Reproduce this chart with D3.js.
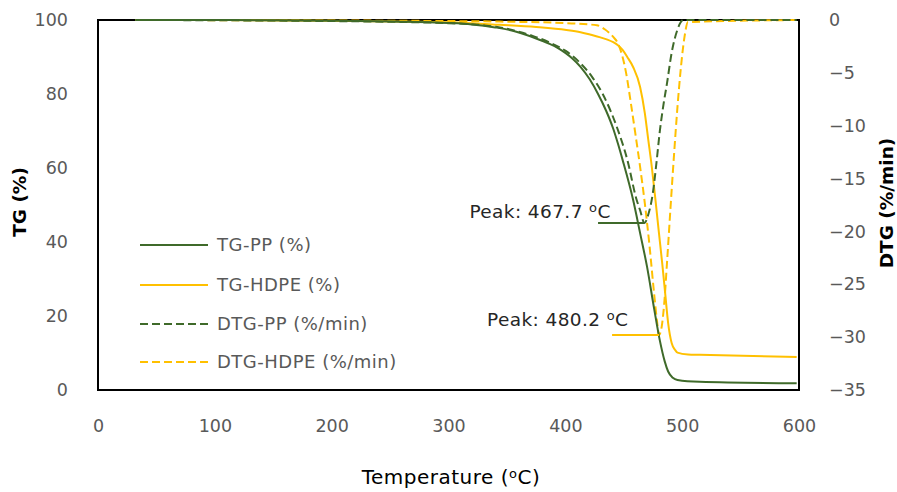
<!DOCTYPE html>
<html>
<head>
<meta charset="utf-8">
<script src="https://cdn.jsdelivr.net/npm/d3@7/dist/d3.min.js"></script>
<style>
  html, body { margin: 0; padding: 0; background: #fff; }
  svg { display: block; font-family: "DejaVu Sans", sans-serif; }
</style>
</head>
<body>
<svg id="chart" width="897" height="492"></svg>
<script>
// Thermogravimetric curves (TG, left axis) and their derivatives (DTG, right axis)
const tgPPTemp   = [32, 100, 200, 250, 300, 320, 340, 355, 370, 380, 387, 393, 400, 406, 413, 421, 428, 435, 441, 445, 449, 458, 464, 470, 476, 481, 485, 488, 492, 496, 515, 598];
const tgPP       = [100, 100, 99.8, 99.6, 99.2, 98.8, 98, 97.1, 95.6, 94.4, 93.5, 92.55, 91.1, 89.6, 87.35, 83.9, 80.0, 75.4, 70.6, 66.6, 62.2, 51.4, 42.4, 33.2, 22.0, 13.2, 7.8, 5.0, 3.3, 2.7, 2.2, 1.8];

const tgHDPETemp = [32, 100, 200, 300, 344, 375, 401, 413, 422, 430, 436, 441, 445, 449, 453, 458, 464, 468, 471, 474, 477, 480, 483, 485.5, 488, 491, 494, 496, 505, 515, 598];
const tgHDPE     = [100, 100, 99.8, 99.4, 98.7, 98.1, 97.3, 96.7, 96.0, 95.3, 94.7, 94.0, 93.2, 91.9, 90.0, 87.3, 81.9, 74.9, 67.6, 60.3, 51.8, 42.8, 34.0, 26.0, 18.1, 12.7, 10.8, 10.1, 9.6, 9.5, 8.9];

const dtgPPTemp  = [32, 200, 300, 330, 344, 358, 372, 387, 400, 413, 423, 432, 444, 453, 461, 464, 467.7, 471, 475, 478, 481, 484, 487, 491, 496, 501, 598];
const dtgPP      = [0, -0.1, -0.3, -0.5, -0.7, -1.05, -1.5, -2.15, -2.9, -4.1, -5.4, -7.0, -10.1, -13.2, -17.0, -18.0, -19.2, -18.4, -16.3, -13.5, -10.4, -8.0, -6.0, -3.1, -0.9, 0, 0];

const dtgHDPETemp = [32, 300, 344, 401, 427, 434, 441, 445, 448.5, 452, 456, 460, 464, 468, 472, 476, 478.5, 480.2, 482.5, 484.5, 487, 490, 493, 496, 499, 502, 505, 598];
const dtgHDPE     = [0, -0.1, -0.15, -0.3, -0.5, -0.9, -1.6, -2.2, -3.3, -5.0, -7.8, -10.8, -13.9, -17.3, -21.3, -25.9, -28.5, -29.8, -29.0, -27.0, -23.0, -17.8, -12.8, -8.2, -4.4, -1.6, -0.2, 0];

// Peak markers: peak temperature, DTG at peak, start of the leader line (°C)
const peakTemps  = [467.7, 480.2];
const peakValues = [-19.2, -29.8];
const peakLineFrom = [428, 440];
const peakLabels = ["Peak: 467.7 ", "Peak: 480.2 "];

const xTicks  = [0, 100, 200, 300, 400, 500, 600];
const tgTicks = [0, 20, 40, 60, 80, 100];
const dtgTicks = [0, -5, -10, -15, -20, -25, -30, -35];

const seriesNames = ["TG-PP (%)", "TG-HDPE (%)", "DTG-PP (%/min)", "DTG-HDPE (%/min)"];

const GREEN = "#3f6a2a";
const YELLOW = "#ffc000";

const svg = d3.select("#chart");
const plot = { left: 98, right: 799, top: 20, bottom: 390 };

const x = d3.scaleLinear().domain([0, 600]).range([plot.left, plot.right]);
const yTG = d3.scaleLinear().domain([0, 100]).range([plot.bottom, plot.top]);
const yDTG = d3.scaleLinear().domain([-35, 0]).range([plot.bottom, plot.top]);

// Axes (labels only; the frame is drawn as a box)
const tickFont = "17.5px";
const axL = svg.append("g").attr("transform", `translate(${plot.left},0)`)
  .call(d3.axisLeft(yTG).tickValues(tgTicks).tickSize(0).tickPadding(30));
const axR = svg.append("g").attr("transform", `translate(${plot.right},0)`)
  .call(d3.axisRight(yDTG).tickValues(dtgTicks).tickSize(0).tickPadding(30));
const axB = svg.append("g").attr("transform", `translate(0,${plot.bottom})`)
  .call(d3.axisBottom(x).tickValues(xTicks).tickSize(0).tickPadding(30));
[axL, axR, axB].forEach(g => {
  g.select(".domain").remove();
  g.selectAll("text").attr("fill", "#595959").style("font-size", tickFont)
    .style("font-family", "DejaVu Sans, sans-serif");
});

// Plot frame
svg.append("rect")
  .attr("x", plot.left).attr("y", plot.top)
  .attr("width", plot.right - plot.left).attr("height", plot.bottom - plot.top)
  .attr("fill", "none").attr("stroke", "#000").attr("stroke-width", 2);

// Curves
const series = [
  { t: tgPPTemp, v: tgPP, y: yTG, color: GREEN, dash: null },
  { t: tgHDPETemp, v: tgHDPE, y: yTG, color: YELLOW, dash: null },
  { t: dtgPPTemp, v: dtgPP, y: yDTG, color: GREEN, dash: "8,4" },
  { t: dtgHDPETemp, v: dtgHDPE, y: yDTG, color: YELLOW, dash: "8,4" }
];
const drawOrder = [3, 1, 2, 0];
drawOrder.forEach(i => {
  const s = series[i];
  const pts = s.t.map((t, k) => [t, s.v[k]]);
  const line = d3.line().x(d => x(d[0])).y(d => s.y(d[1])).curve(d3.curveMonotoneX);
  svg.append("path").datum(pts)
    .attr("d", line)
    .attr("fill", "none")
    .attr("stroke", s.color)
    .attr("stroke-width", 2)
    .attr("stroke-dasharray", s.dash);
});

// Peak leader lines and labels
const peakColors = [GREEN, YELLOW];
const labelOffsets = [[-175, -5], [-172, -9]];
peakTemps.forEach((pt, i) => {
  const py = yDTG(peakValues[i]);
  svg.append("line")
    .attr("x1", x(peakLineFrom[i])).attr("x2", x(pt))
    .attr("y1", py).attr("y2", py)
    .attr("stroke", peakColors[i]).attr("stroke-width", 2);
  const tx = x(pt) + labelOffsets[i][0];
  const ty = py + labelOffsets[i][1];
  const txt = svg.append("text")
    .attr("x", tx).attr("y", ty)
    .attr("fill", "#262626")
    .style("font-size", "18.5px")
    .style("letter-spacing", "0.4px");
  txt.append("tspan").text(peakLabels[i]);
  txt.append("tspan").text("o").style("font-size", "13px").attr("dy", -6);
  txt.append("tspan").text("C").attr("dy", 6);
});

// Legend
const legendY = [245, 285, 324, 362];
series.forEach((s, i) => {
  svg.append("line")
    .attr("x1", 140).attr("x2", 208)
    .attr("y1", legendY[i]).attr("y2", legendY[i])
    .attr("stroke", s.color).attr("stroke-width", 2)
    .attr("stroke-dasharray", s.dash);
  svg.append("text")
    .attr("x", 217).attr("y", legendY[i])
    .attr("dy", "0.35em")
    .attr("fill", "#595959")
    .style("font-size", "18px")
    .style("letter-spacing", "0.5px")
    .text(seriesNames[i]);
});

// Axis titles
svg.append("text")
  .attr("transform", `translate(26,202) rotate(-90)`)
  .attr("text-anchor", "middle")
  .attr("fill", "#000").style("font-weight", "bold").style("font-size", "18.5px")
  .text("TG (%)");
svg.append("text")
  .attr("transform", `translate(893,203) rotate(-90)`)
  .attr("text-anchor", "middle")
  .attr("fill", "#000").style("font-weight", "bold").style("font-size", "18.5px")
  .text("DTG (%/min)");
const xt = svg.append("text")
  .attr("x", 451).attr("y", 484)
  .attr("text-anchor", "middle")
  .attr("fill", "#000").style("font-size", "20px")
  .style("letter-spacing", "0.5px");
xt.append("tspan").text("Temperature (");
xt.append("tspan").text("o").style("font-size", "13px").attr("dy", -6);
xt.append("tspan").text("C)").attr("dy", 6);
</script>
</body>
</html>
